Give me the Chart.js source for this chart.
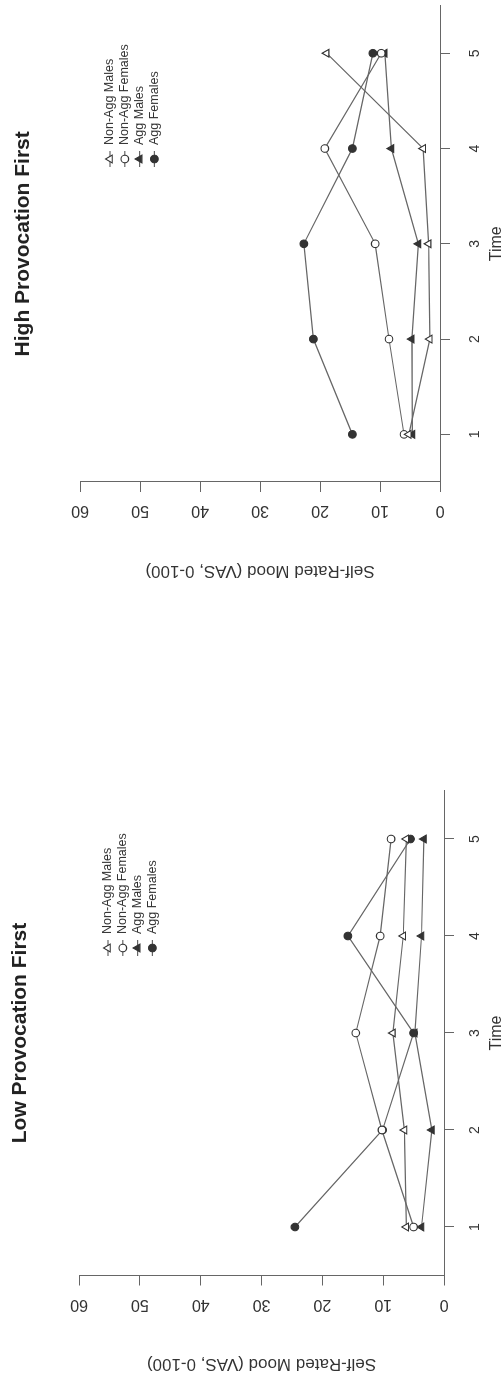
<!DOCTYPE html>
<html>
<head>
<meta charset="utf-8">
<script src="https://cdn.jsdelivr.net/npm/chart.js@4.4.0/dist/chart.umd.min.js"></script>
<style>
  html, body { margin: 0; padding: 0; background: #fff; overflow: hidden; }
  body { width: 503px; height: 1379px; position: relative; }
  /* the scanned page lies on its side: draw it upright, then turn it */
  #page {
    position: absolute; left: 0; top: 0;
    width: 1379px; height: 503px;
    transform-origin: 0 0;
    transform: translateY(1379px) rotate(-90deg);
  }
  #page canvas { position: absolute; top: 0; }
</style>
</head>
<body>
<div id="page">
  <canvas id="low-chart" width="689" height="503" style="left:0"></canvas>
  <canvas id="high-chart" width="690" height="503" style="left:689px"></canvas>
</div>
<script>
const timeLabels = ['1', '2', '3', '4', '5'];
const groupNames = ['Non-Agg Males', 'Non-Agg Females', 'Agg Males', 'Agg Females'];

// Low Provocation First
const lowNonAggMales = [6.2, 6.5, 8.4, 6.7, 6.2];
const lowNonAggFemales = [5.0, 10.2, 14.5, 10.5, 8.7];
const lowAggMales = [3.7, 2.0, 4.8, 3.7, 3.3];
const lowAggFemales = [24.5, 10.1, 5.0, 15.8, 5.5];

// High Provocation First
const highNonAggMales = [5.2, 1.7, 1.9, 2.8, 18.9];
const highNonAggFemales = [6.0, 8.5, 10.8, 19.2, 9.8];
const highAggMales = [4.6, 4.7, 3.6, 8.1, 9.2];
const highAggFemales = [14.6, 21.1, 22.7, 14.6, 11.2];

const moodMin = 0;
const moodMax = 60;
const moodStep = 10;

const FONT = '"Liberation Sans", Arial, sans-serif';
const INK = '#333';
const LINE = '#666';

Chart.defaults.font.family = FONT;
Chart.defaults.color = INK;

// open / filled triangles and circles, like the R symbols
const markers = [
    { style: 'triangle', fill: '#fff', radius: 4.5 },
    { style: 'circle', fill: '#fff', radius: 3.8 },
    { style: 'triangle', fill: '#333', radius: 4.5 },
    { style: 'circle', fill: '#333', radius: 3.8 }
];

function makeDatasets(seriesList) {
    return seriesList.map((values, i) => ({
        label: groupNames[i],
        data: values,
        borderColor: LINE,
        borderWidth: 1.2,
        tension: 0,
        pointStyle: markers[i].style,
        pointRadius: markers[i].radius,
        pointBackgroundColor: markers[i].fill,
        pointBorderColor: '#333',
        pointBorderWidth: 1.1
    }));
}

function drawMarker(ctx, style, x, y, r, fill, stroke) {
    ctx.beginPath();
    if (style === 'triangle') {
        let rad = 0;
        ctx.moveTo(x + Math.sin(rad) * r, y - Math.cos(rad) * r);
        rad += Math.PI * 2 / 3;
        ctx.lineTo(x + Math.sin(rad) * r, y - Math.cos(rad) * r);
        rad += Math.PI * 2 / 3;
        ctx.lineTo(x + Math.sin(rad) * r, y - Math.cos(rad) * r);
        ctx.closePath();
    } else {
        ctx.arc(x, y, r, 0, Math.PI * 2);
    }
    ctx.fillStyle = fill;
    ctx.fill();
    ctx.lineWidth = 1.1;
    ctx.strokeStyle = stroke;
    ctx.stroke();
}

// small legend inside the plot, line + symbol + name
const plotLegend = {
    id: 'plotLegend',
    afterDatasetsDraw(chart, args, opts) {
        const ctx = chart.ctx;
        ctx.save();
        ctx.font = opts.size + 'px ' + FONT;
        ctx.textBaseline = 'middle';
        chart.data.datasets.forEach((ds, i) => {
            const y = opts.y + i * opts.gap;
            ctx.strokeStyle = ds.borderColor;
            ctx.lineWidth = ds.borderWidth;
            ctx.beginPath();
            ctx.moveTo(opts.x - 8, y);
            ctx.lineTo(opts.x + 8, y);
            ctx.stroke();
            drawMarker(ctx, ds.pointStyle, opts.x, y, ds.pointRadius, ds.pointBackgroundColor, ds.pointBorderColor);
            ctx.fillStyle = INK;
            ctx.fillText(ds.label, opts.x + 14, y);
        });
        ctx.restore();
    }
};

function buildChart(canvasId, title, seriesList, box) {
    const ctx = document.getElementById(canvasId).getContext('2d');
    return new Chart(ctx, {
        type: 'line',
        data: {
            labels: timeLabels,
            datasets: makeDatasets(seriesList)
        },
        plugins: [plotLegend],
        options: {
            responsive: false,
            animation: false,
            layout: { padding: { left: box.padLeft, right: box.padRight, top: 0, bottom: 0 } },
            plugins: {
                legend: { display: false },
                tooltip: { enabled: false },
                title: {
                    display: true,
                    text: title,
                    fullSize: false,
                    color: '#222',
                    font: { size: 21, weight: 'bold' },
                    padding: { top: box.titleTop, bottom: box.titleBottom }
                },
                plotLegend: { x: box.legendX, y: box.legendY, gap: 14.8, size: 12.5 }
            },
            scales: {
                x: {
                    type: 'category',
                    offset: true,
                    grid: { offset: false, drawOnChartArea: false, tickLength: 10, color: LINE },
                    border: { color: LINE },
                    ticks: { padding: box.xTickPad, font: { size: 14 } },
                    title: { display: true, text: 'Time', font: { size: 16 }, padding: { top: 0, bottom: -3.6 } },
                    afterFit: (scale) => { scale.height = box.xHeight; }
                },
                y: {
                    min: moodMin,
                    max: moodMax,
                    grid: { drawOnChartArea: false, tickLength: 10, color: LINE },
                    border: { color: LINE },
                    ticks: { stepSize: moodStep, minRotation: 90, maxRotation: 90, crossAlign: 'center', padding: 10, font: { size: 16 } },
                    title: { display: true, text: 'Self-Rated Mood (VAS, 0-100)', font: { size: 17 }, padding: { top: 4.8, bottom: 0 } },
                    afterFit: (scale) => { scale.width = 103.5; }
                }
            }
        }
    });
}

// title box heights: padding top + 25.2 line + padding bottom = top of the plot
buildChart('low-chart', 'Low Provocation First',
    [lowNonAggMales, lowNonAggFemales, lowAggMales, lowAggFemales],
    { padLeft: 0, padRight: 100.5, titleTop: 7.4, titleBottom: 46.4, xHeight: 59, xTickPad: 12.6, legendX: 431, legendY: 108 });

buildChart('high-chart', 'High Provocation First',
    [highNonAggMales, highNonAggFemales, highAggMales, highAggFemales],
    { padLeft: 104.5, padRight: 5.4, titleTop: 10.4, titleBottom: 44.4, xHeight: 63, xTickPad: 16.6, legendX: 531, legendY: 110 });
</script>
</body>
</html>
